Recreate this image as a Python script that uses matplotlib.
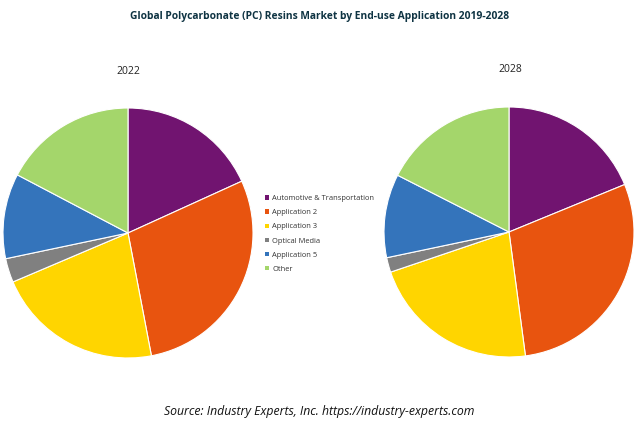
import matplotlib.pyplot as plt

LABELS = ['Automotive & Transportation', 'Application 2', 'Application 3',
          'Optical Media', 'Application 5', 'Other']
SHARE_2022 = [18.2, 28.8, 21.6, 3.1, 11.0, 17.3]
SHARE_2028 = [18.8, 29.1, 21.9, 1.9, 10.8, 17.5]
COLORS = ['#711470', '#E8540F', '#FFD500', '#808080', '#3474BB', '#A4D66B']

plt.rcParams['font.family'] = ['Open Sans', 'DejaVu Sans']

fig = plt.figure(figsize=(6.39, 4.26), dpi=100)


def draw_pie(rect, values):
    ax = fig.add_axes(rect)
    wedges, _ = ax.pie(values, colors=COLORS, startangle=90, counterclock=False,
                       wedgeprops=dict(edgecolor='white', linewidth=0.8))
    ax.set_xlim(-1, 1)
    ax.set_ylim(-1, 1)
    ax.set_aspect('equal')
    return wedges


wedges = draw_pie([3 / 639, 68 / 426, 250 / 639, 250 / 426], SHARE_2022)
draw_pie([384 / 639, 69 / 426, 250 / 639, 250 / 426], SHARE_2028)

fig.text(128 / 639, 1 - 72 / 426, '2022', ha='center', va='center',
         fontsize=7.5, color='#222222')
fig.text(510 / 639, 1 - 70 / 426, '2028', ha='center', va='center',
         fontsize=7.5, color='#222222')

fig.text(0.5, 1 - 17 / 426,
         'Global Polycarbonate (PC) Resins Market by End-use Application 2019-2028',
         ha='center', va='center', fontsize=7.4, fontweight='bold', color='#0F3443')

leg = fig.legend(wedges, LABELS, loc='center left', bbox_to_anchor=(258 / 639, 1 - 234 / 426),
                 frameon=False, fontsize=5.4, handlelength=0.55, handleheight=0.55,
                 handletextpad=0.45, labelspacing=0.95, labelcolor='#333333')
for h in leg.legend_handles:
    h.set_edgecolor('none')

fig.text(0.5, 1 - 412 / 426, 'Source: Industry Experts, Inc. https://industry-experts.com',
         ha='center', va='center', fontsize=8.8, style='italic', color='#111111')

fig.savefig('out.png', dpi=100)
